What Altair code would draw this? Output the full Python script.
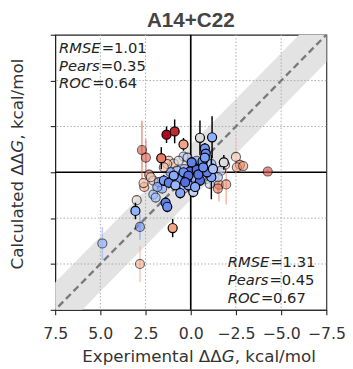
import altair as alt
import pandas as pd

# ---- data ----
exp_ddg = [1.34, 0.89, 0.40, -0.51, -1.18, 1.63, 1.00, 3.06, 1.39, 1.30,
           -0.78, -0.83, -0.14, -0.65, 0.04, -0.33, 1.49, 1.21, 0.67, 0.22,
           -0.51, -0.14, 0.58, -1.83, -1.14, 0.13, -0.90, 0.40, 0.94,
           0.13, -0.42, -0.69, -0.05, -0.24, 0.85, 0.31, -1.23, -0.78,
           2.70, 2.48, -4.26, -2.50, -2.72, -2.55, -2.90, -1.90, -1.56, -1.96,
           -1.50, 2.81, 4.89, 2.81, 2.99, 2.57, 2.61, 2.30, 2.07, 2.21,
           2.07, 1.94, 1.58, 1.21, 0.94, 1.30, 0.40, 0.67, 0.18, 0.36,
           0.76, 1.76, -0.87, -0.69, -1.14, -0.33, 0.40, -1.68, -0.14, -0.60, -1.05,
           1.12, 1.49, -1.05, -1.50, 1.85]
calc_ddg = [-2.05, -2.23, -1.52, -1.88, -1.91, -0.77, 3.04, 2.11, 1.66, 1.88,
            -1.30, -1.02, -0.32, -0.59, -0.05, -0.14, 0.45, 0.57, 0.36, 0.36,
            0.45, 1.07, 1.13, -0.54, 0.27, 0.71, 0.00, 0.00, 0.18,
            0.18, 0.12, -0.27, -0.54, 0.80, 0.71, 0.54, -0.18, -0.80,
            -1.21, -0.80, -0.04, -0.84, -0.41, -0.27, -0.34, -0.41, 0.68, 0.66,
            0.89, 5.00, 3.88, 2.98, 1.52, 0.80, 0.59, 0.13, 0.45, 0.27,
            1.21, 1.38, 0.89, -0.63, -0.48, -0.45, -0.86, -0.63, -0.80, -0.18,
            -0.09, 0.54, 0.36, 0.00, -0.45, -0.63, 0.89, -0.09, 0.27, 0.27, 0.12,
            0.00, -0.27, 0.63, 0.27, 0.80]
calc_err = [0.45, 0.65, 0.35, 0.95, 1.15, 0.60, 0.50, 0.45, 0.30, 0.30,
            0.30, 0.30, 0.30, 0.20, 0.30, 0.30, 0.30, 0.30, 0.30, 0.40,
            0.30, 0.30, 0.30, 0.40, 1.20, 0.35, 0.20, 0.20, 0.20,
            0.30, 0.30, 0.20, 0.30, 0.30, 0.20, 0.30, 0.30, 0.20,
            1.60, 1.00, 0.10, 1.10, 0.30, 0.20, 0.20, 0.20, 0.90, 1.10,
            0.30, 1.00, 0.90, 0.70, 0.30, 0.30, 0.20, 0.30, 0.20, 0.20,
            0.30, 0.30, 0.30, 0.30, 0.20, 0.20, 0.20, 0.20, 0.20, 0.20,
            0.20, 0.30, 0.30, 0.20, 0.30, 0.20, 0.30, 0.20, 0.20, 0.20, 0.20,
            0.20, 0.20, 0.30, 0.20, 0.20]
color_val = [1.00, 0.97, 0.72, 0.50, 0.32, 0.82, 0.72, 0.33, 0.15, 0.20,
             0.22, 0.18, 0.12, 0.20, 0.08, 0.10, 0.25, 0.15, 0.22, 0.12,
             0.10, 0.45, 0.28, 0.50, 0.28, 0.30, 0.15, 0.20, 0.30,
             0.10, 0.12, 0.20, 0.15, 0.30, 0.35, 0.10, 0.40, 0.25,
             0.90, 0.88, 0.92, 0.60, 0.78, 0.72, 0.75, 0.50, 0.80, 0.78,
             0.82, 0.70, 0.32, 0.22, 0.52, 0.68, 0.65, 0.75, 0.62, 0.55,
             0.35, 0.38, 0.30, 0.60, 0.58, 0.62, 0.42, 0.50, 0.45, 0.30,
             0.35, 0.35, 0.45, 0.30, 0.35, 0.30, 0.30, 0.45, 0.25, 0.35, 0.40,
             0.25, 0.60, 0.45, 0.40, 0.30]
subset = ["A"] * 38 + ["B"] * 46

ticks = [-7.5, -5.0, -2.5, 0.0, 2.5, 5.0, 7.5]
grid_ticks = [-5.0, -2.5, 2.5, 5.0]
diag_x = [-9.0, 9.0]
band_half = 1.5

title_text = "A14+C22"
stat_names = ["RMSE", "Pears", "ROC"]
stats_a = ["1.01", "0.35", "0.64"]
stats_b = ["1.31", "0.45", "0.67"]
x_title = ["Experimental ΔΔ", "G", ", kcal/mol"]
y_title = ["Calculated ΔΔ", "G", ", kcal/mol"]

# ---- tables ----
df = pd.DataFrame({"exp": exp_ddg, "calc": calc_ddg, "err": calc_err,
                   "c": color_val, "set": subset})
df["lo"] = df["calc"] - df["err"]
df["hi"] = df["calc"] + df["err"]
df_a = df[df["set"] == "A"]
df_b = df[df["set"] == "B"]

band_df = pd.DataFrame({"bx": diag_x,
                        "blo": [v - band_half for v in diag_x],
                        "bhi": [v + band_half for v in diag_x]})
grid_df = pd.DataFrame({"g": grid_ticks})
zero_df = pd.DataFrame({"z": [0.0]})

W, H = 276, 280
FONT = "DejaVu Sans"

xscale = alt.Scale(domain=[-7.5, 7.5], reverse=True, nice=False, zero=False)
yscale = alt.Scale(domain=[-7.5, 7.5], reverse=True, nice=False, zero=False)
xaxis = alt.Axis(values=ticks, format=".1f", grid=False, tickSize=5,
                 labelFontSize=16, labelColor="#333333", labelFont=FONT,
                 labelPadding=11, labelFlush=False)
yaxis = alt.Axis(values=ticks, labels=False, grid=False, tickSize=5)


def X(f):
    return alt.X(f, type="quantitative", scale=xscale, axis=xaxis, title=None)


def Y(f):
    return alt.Y(f, type="quantitative", scale=yscale, axis=yaxis, title=None)


cmap = alt.Scale(domain=[0, 0.125, 0.25, 0.375, 0.5, 0.625, 0.75, 0.875, 1.0],
                 range=["#3b4cc0", "#5a78e4", "#7b9ff9", "#9ebeff", "#dddddd",
                        "#f6bfa6", "#f49a7b", "#e0654f", "#b40426"])

band = alt.Chart(band_df).mark_area(color="#e3e3e3", clip=True).encode(
    x=X("bx"), y=Y("blo"), y2="bhi")
gx = alt.Chart(grid_df).mark_rule(color="#aaaaaa", strokeDash=[1.5, 2], strokeWidth=1).encode(x=X("g"))
gy = alt.Chart(grid_df).mark_rule(color="#aaaaaa", strokeDash=[1.5, 2], strokeWidth=1).encode(y=Y("g"))
diag = alt.Chart(band_df).mark_line(color="#7a7a7a", strokeDash=[7, 4], strokeWidth=2.4, clip=True).encode(
    x=X("bx"), y=Y("bx"))
zx = alt.Chart(zero_df).mark_rule(color="black", strokeWidth=1.7).encode(x=X("z"))
zy = alt.Chart(zero_df).mark_rule(color="black", strokeWidth=1.7).encode(y=Y("z"))

FADE = 0.62
err_b = alt.Chart(df_b).mark_rule(strokeWidth=1.5, opacity=FADE).encode(
    x=X("exp"), y=Y("lo"), y2="hi", color=alt.Color("c:Q", scale=cmap, legend=None))
pts_b = alt.Chart(df_b).mark_circle(size=85, stroke="black", strokeWidth=1.1, opacity=FADE).encode(
    x=X("exp"), y=Y("calc"), fill=alt.Fill("c:Q", scale=cmap, legend=None))
err_a = alt.Chart(df_a).mark_rule(strokeWidth=1.5, color="black").encode(
    x=X("exp"), y=Y("lo"), y2="hi")
pts_a = alt.Chart(df_a).mark_circle(size=85, stroke="black", strokeWidth=1.2, opacity=1).encode(
    x=X("exp"), y=Y("calc"), fill=alt.Fill("c:Q", scale=cmap, legend=None))

texts = []


def txt(s, x, y, **kw):
    base = dict(font=FONT, fontSize=15, align="left", baseline="alphabetic", color="#222222")
    base.update(kw)
    return alt.Chart(zero_df).mark_text(text=s, **base).encode(x=alt.value(x), y=alt.value(y))


# statistics boxes: italic word, "=", value
FS = 15
EM = {"RMSE": 2.825, "Pears": 2.763, "ROC": 2.18}
for x0, ys, vals in [(4, [18.7, 36.5, 54.7], stats_a), (175.7, [236.3, 254.7, 273], stats_b)]:
    for i, name in enumerate(stat_names):
        eq = x0 + EM[name] * FS + 1.0
        texts.append(txt(name, x0, ys[i], fontStyle="italic"))
        texts.append(txt("=", eq, ys[i]))
        texts.append(txt(vals[i], eq + 12.4, ys[i]))

# chart title
texts.append(txt(title_text, W / 2, -7.5, font="Liberation Sans", fontSize=21, fontWeight="bold",
                 color="#444444", align="center"))

# axis titles with italic G (DejaVu Sans advance widths, 17px)
TS = 17
xw = [8.355 * TS, 0.775 * TS, 3.863 * TS]
xs = W / 2 - sum(xw) / 2
texts.append(txt(x_title[0], xs, 333, fontSize=TS, color="#333333"))
texts.append(txt(x_title[1], xs + xw[0], 333, fontSize=TS, color="#333333", fontStyle="italic"))
texts.append(txt(x_title[2], xs + xw[0] + xw[1], 333, fontSize=TS, color="#333333"))

yw = [6.992 * TS, 0.775 * TS, 3.863 * TS]
ys0 = H / 2 + sum(yw) / 2
texts.append(txt(y_title[0], -32.5, ys0, fontSize=TS, color="#333333", angle=270))
texts.append(txt(y_title[1], -32.5, ys0 - yw[0], fontSize=TS, color="#333333", angle=270, fontStyle="italic"))
texts.append(txt(y_title[2], -32.5, ys0 - yw[0] - yw[1], fontSize=TS, color="#333333", angle=270))

chart = alt.layer(band, gx, gy, diag, zx, zy, err_b, pts_b, err_a, pts_a, *texts).properties(
    width=W, height=H,
    autosize=alt.AutoSizeParams(type="none"),
    padding={"left": 48, "top": 24, "right": 19, "bottom": 57},
).configure_view(stroke="#222222", strokeWidth=1.1).configure_axis(
    domainColor="#222222", tickColor="#222222", domainWidth=1.1, tickWidth=1.1)

chart.save("out.html", embed_options={"renderer": "svg", "actions": False})
